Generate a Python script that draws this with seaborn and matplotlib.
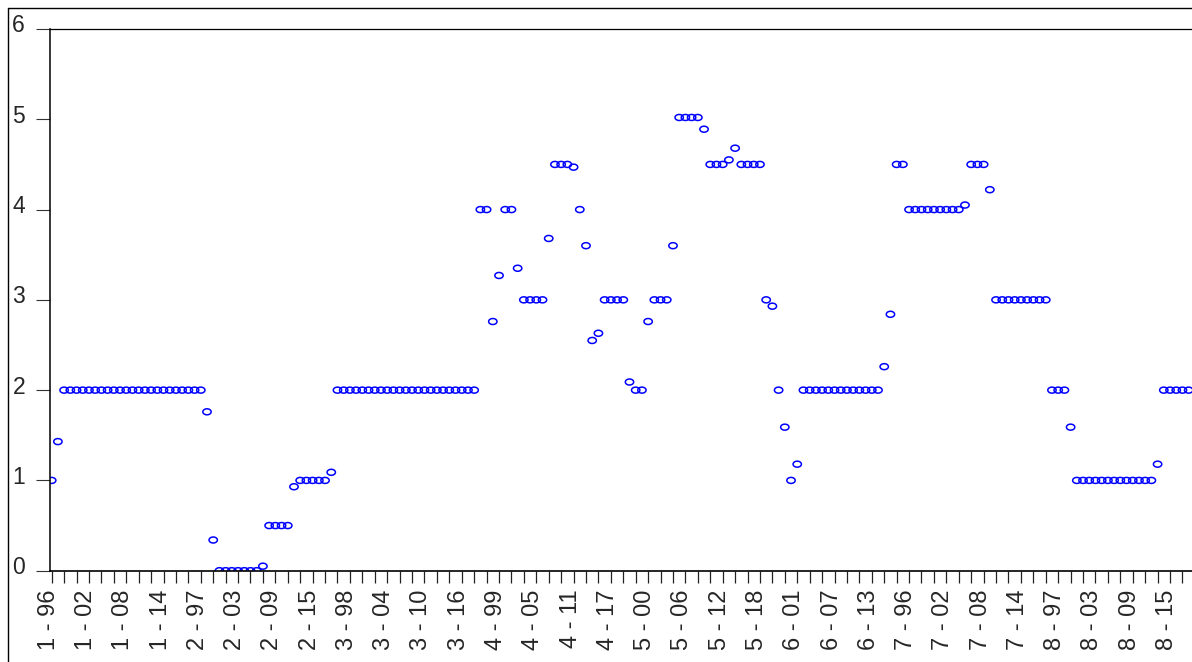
import numpy as np
import pandas as pd
import matplotlib
matplotlib.use("Agg")
import matplotlib.pyplot as plt
import seaborn as sns
from matplotlib.path import Path
from matplotlib.lines import Line2D
from matplotlib.transforms import ScaledTranslation

# ---- data: 184 panel observations (8 cross-sections x 23 years) ----
values = [
    1.00, 1.43,
    2.00, 2.00, 2.00, 2.00, 2.00, 2.00, 2.00, 2.00, 2.00, 2.00, 2.00, 2.00,
    2.00, 2.00, 2.00, 2.00, 2.00, 2.00, 2.00, 2.00, 2.00, 2.00, 2.00,
    1.76, 0.34,
    0.00, 0.00, 0.00, 0.00, 0.00, 0.00, 0.00,
    0.05,
    0.50, 0.50, 0.50, 0.50,
    0.93,
    1.00, 1.00, 1.00, 1.00, 1.00,
    1.09,
    2.00, 2.00, 2.00, 2.00, 2.00, 2.00, 2.00, 2.00, 2.00, 2.00, 2.00, 2.00,
    2.00, 2.00, 2.00, 2.00, 2.00, 2.00, 2.00, 2.00, 2.00, 2.00, 2.00,
    4.00, 4.00, 2.76, 3.27, 4.00, 4.00, 3.35,
    3.00, 3.00, 3.00, 3.00,
    3.68,
    4.50, 4.50, 4.50,
    4.47, 4.00, 3.60, 2.55, 2.63,
    3.00, 3.00, 3.00, 3.00,
    2.09, 2.00, 2.00, 2.76,
    3.00, 3.00, 3.00,
    3.60,
    5.02, 5.02, 5.02, 5.02,
    4.89,
    4.50, 4.50, 4.50,
    4.55, 4.68,
    4.50, 4.50, 4.50, 4.50,
    3.00, 2.93, 2.00, 1.59, 1.00, 1.18,
    2.00, 2.00, 2.00, 2.00, 2.00, 2.00, 2.00, 2.00, 2.00, 2.00, 2.00, 2.00, 2.00,
    2.26, 2.84,
    4.50, 4.50,
    4.00, 4.00, 4.00, 4.00, 4.00, 4.00, 4.00, 4.00, 4.00,
    4.05,
    4.50, 4.50, 4.50,
    4.22,
    3.00, 3.00, 3.00, 3.00, 3.00, 3.00, 3.00, 3.00, 3.00,
    2.00, 2.00, 2.00,
    1.59,
    1.00, 1.00, 1.00, 1.00, 1.00, 1.00, 1.00, 1.00, 1.00, 1.00, 1.00, 1.00, 1.00,
    1.18,
    2.00, 2.00, 2.00, 2.00, 2.00,
]

tick_labels = [
    "1 - 96", "1 - 02", "1 - 08", "1 - 14",
    "2 - 97", "2 - 03", "2 - 09", "2 - 15",
    "3 - 98", "3 - 04", "3 - 10", "3 - 16",
    "4 - 99", "4 - 05", "4 - 11", "4 - 17",
    "5 - 00", "5 - 06", "5 - 12", "5 - 18",
    "6 - 01", "6 - 07", "6 - 13",
    "7 - 96", "7 - 02", "7 - 08", "7 - 14",
    "8 - 97", "8 - 03", "8 - 09", "8 - 15",
]
label_step = 6
minor_step = 2
y_ticks = [0, 1, 2, 3, 4, 5, 6]

df = pd.DataFrame({"obs": np.arange(len(values)), "value": values})

# ---- style ----
sns.set_style("white")
plt.rcParams["font.family"] = ["Liberation Sans", "DejaVu Sans"]

W, H = 1192, 662
fig = plt.figure(figsize=(W / 100, H / 100), dpi=100)
ax_left, ax_right, ax_top, ax_bot = 50, 1215, 29, 570.7
ax = fig.add_axes([ax_left / W, (H - ax_bot) / H,
                   (ax_right - ax_left) / W, (ax_bot - ax_top) / H])

# slightly flattened open circle marker
t = np.linspace(0, 2 * np.pi, 64)
ellipse = Path(np.column_stack([np.cos(t), 0.72 * np.sin(t)]), closed=True)

sns.scatterplot(data=df, x="obs", y="value", marker=ellipse, s=36,
                linewidth=1.1, legend=False, ax=ax)
pts = ax.collections[0]
pts.set_facecolor("none")
pts.set_edgecolor("#0000ff")

ax.set_xlim(-0.27, 187.24)
ax.set_ylim(0, 6)
ax.set_xlabel("")
ax.set_ylabel("")

ax.set_yticks(y_ticks)
ax.set_yticklabels([str(v) for v in y_ticks])
ax.set_xticks(np.arange(0, label_step * len(tick_labels), label_step))
ax.set_xticklabels(tick_labels, rotation=90)
ax.set_xticks(np.arange(0, len(values), minor_step), minor=True)

ax.tick_params(axis="y", direction="out", length=10, width=0.8,
               color="#333333", pad=8, labelsize=16.5, left=True)
ax.tick_params(axis="x", which="both", direction="out", length=8.6,
               width=0.9, color="#222222", pad=5, labelsize=17, bottom=True)

for lbl in ax.get_yticklabels():
    lbl.set_transform(lbl.get_transform() +
                      ScaledTranslation(0, 5.5 / 100, fig.dpi_scale_trans))
for lbl in ax.get_xticklabels():
    lbl.set_transform(lbl.get_transform() +
                      ScaledTranslation(-3 / 100, 0, fig.dpi_scale_trans))

for side, lw in [("left", 1.1), ("bottom", 1.2), ("top", 0.9)]:
    ax.spines[side].set_visible(True)
    ax.spines[side].set_color("black")
    ax.spines[side].set_linewidth(lw)
ax.spines["right"].set_visible(False)
ax.grid(False)

# outer frame
fx, fy = 8 / W, 1 - 8 / H
fig.add_artist(Line2D([fx, fx], [0, fy], transform=fig.transFigure,
                      color="black", lw=1.0))
fig.add_artist(Line2D([fx, 1], [fy, fy], transform=fig.transFigure,
                      color="black", lw=1.0))

fig.savefig("out.png", dpi=100)
